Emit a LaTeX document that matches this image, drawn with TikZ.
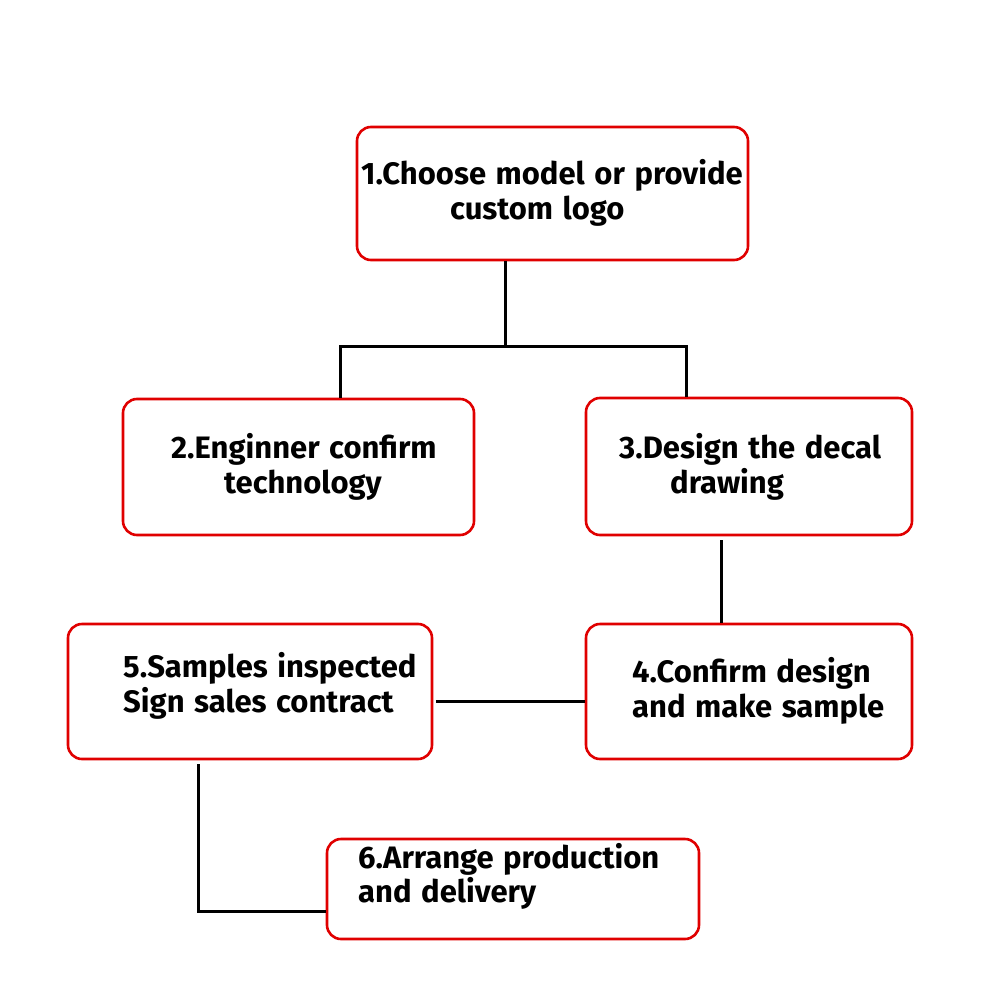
\documentclass[tikz,border=0pt]{standalone}
\usepackage{fontspec}
\setmainfont{Fira Sans}[UprightFont=* Bold, WordSpace=1.3]
\begin{document}
\begin{tikzpicture}[x=1pt,y=-1pt,
  box/.style={draw=red!88!black, line width=2.6pt, rounded corners=14pt, fill=white, inner sep=0pt},
  txt/.style={anchor=base west, inner sep=0pt, font=\fontsize{31}{35}\selectfont},
  link/.style={draw=black, line width=3pt}]
\useasboundingbox[fill=white] (0,0) rectangle (1000,1000);
% boxes
\node[box, minimum width=391pt, minimum height=133pt] (b1) at (552.5,193.5) {};
\node[box, minimum width=351pt, minimum height=136pt] (b2) at (298.5,467) {};
\node[box, minimum width=326pt, minimum height=137pt] (b3) at (749,466.5) {};
\node[box, minimum width=326pt, minimum height=135pt] (b4) at (749,691.5) {};
\node[box, minimum width=364pt, minimum height=135pt] (b5) at (250,691.5) {};
\node[box, minimum width=372pt, minimum height=100pt] (b6) at (513,889) {};
% texts
\node[txt] (t1a) at (361,185) {1.Choose model or provide};
\node[txt] (t1b) at (450,220) {custom logo};
\node[txt] (t2a) at (171,458) {2.Enginner confirm};
\node[txt] (t2b) at (224,493) {technology};
\node[txt] (t3a) at (619,458) {3.Design the decal};
\node[txt] (t3b) at (670,493) {drawing};
\node[txt] (t4a) at (632,682) {4.Confirm design};
\node[txt] (t4b) at (632,717) {and make sample};
\node[txt] (t5a) at (123,677) {5.Samples inspected};
\node[txt] (t5b) at (123,712) {Sign sales contract};
\node[txt] (t6a) at (358,868) {6.Arrange production};
\node[txt] (t6b) at (358,902) {and delivery};
% connectors
\coordinate (j1) at (505,346);
\coordinate (j2) at (340,346);
\coordinate (j3) at (686,346);
\draw[link] (b1.south -| j1) -- (j1);
\draw[link] (b2.north -| j2) -- (j2) -- (j3) -- (b3.north -| j3);
\coordinate (c34) at (721,540);
\draw[link] (c34) -- (b4.north -| c34);
\coordinate (c54) at (436,701);
\draw[link] (c54) -- (b4.west |- c54);
\coordinate (c56) at (198,764);
\coordinate (c56b) at (198,911);
\draw[link] (c56) -- (c56b) -- (b6.west |- c56b);
\end{tikzpicture}
\end{document}
